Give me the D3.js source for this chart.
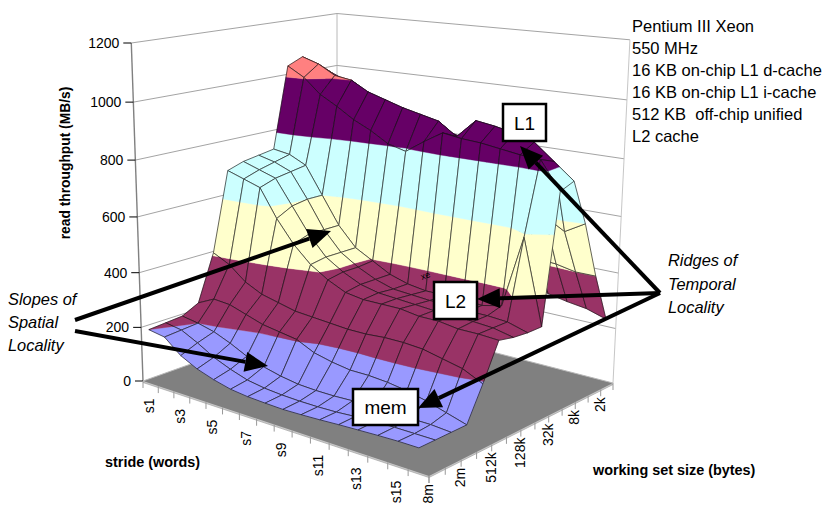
<!DOCTYPE html>
<meta charset="utf-8">
<style>
body { margin: 0; background: #fff; }
text { font-family: "Liberation Sans", Arial, sans-serif; fill: #000; white-space: pre; }
</style>
<body>
<script src="https://d3js.org/d3.v7.min.js"></script>
<script>
// stride s1..s16 across, working set size down
var strides = ["s1","s2","s3","s4","s5","s6","s7","s8","s9","s10","s11","s12","s13","s14","s15","s16"];
var sizes = ["1k","2k","4k","8k","16k","32k","64k","128k","256k","512k","1m","2m","4m","8m"];

var r1k   = [850,830,800,780,760,740,720,700,670,630,580,290,272,258,248,226];
var r2k   = [930,920,900,880,860,840,820,800,780,760,700,600,420,414,400,400];
var r4k   = [1030,1000,975,950,920,900,880,860,840,820,800,720,620,600,560,600];
var r8k   = [1065,1045,1010,1000,965,945,925,910,895,850,915,905,890,870,815,760];
var r16k  = [1040,1005,950,915,875,845,807,790,835,875,865,860,850,840,835,740];
var r32k  = [740,730,700,600,500,430,395,360,340,330,330,330,325,340,590,300];
var r64k  = [730,715,690,600,500,430,390,360,340,335,330,330,325,325,320,300];
var r128k = [720,700,680,590,500,430,390,360,345,340,335,330,330,325,320,305];
var r256k = [700,680,660,560,480,420,380,350,340,340,340,330,330,320,320,316];
var r512k = [410,380,330,300,285,270,265,260,255,255,260,260,255,240,225,193];
var r1m   = [240,270,265,245,225,215,205,175,160,150,150,145,135,120,100,80];
var r2m   = [210,200,185,160,130,110,95,85,82,82,85,85,85,85,85,80];
var r4m   = [205,195,165,130,105,85,75,70,68,68,70,75,78,80,80,80];
var r8m   = [200,190,140,110,90,75,68,65,63,65,68,72,75,78,80,80];
var throughput = [r1k,r2k,r4k,r8k,r16k,r32k,r64k,r128k,r256k,r512k,r1m,r2m,r4m,r8m];

var yTicks = [0,200,400,600,800,1000,1200];
var strideLabels = ["s1","s3","s5","s7","s9","s11","s13","s15"];
var sizeLabels = ["2k","8k","32k","128k","512k","2m","8m"];
var infoLines = ["Pentium III Xeon","550 MHz","16 KB on-chip L1 d-cache","16 KB on-chip L1 i-cache","512 KB  off-chip unified","L2 cache"];
var bandColors = ["#9999ff","#993366","#ffffcc","#ccffff","#660066","#ff8080"];

var width = 829, height = 506;
var svg = d3.select("body").append("svg").attr("width", width).attr("height", height);

// scales into the unit cube
var uScale = d3.scalePoint().domain(strides).range([0,1]).padding(0.5);
var vScale = d3.scalePoint().domain(sizes).range([0,1]);
var wScale = d3.scaleLinear().domain([0,1200]).range([0,1]);

// perspective from the floor corners and the wall tops of the picture
var back = [337,312], right = [613,383], front = [429,476], left = [143,381];
var topBack = [337,12], topLeft = [130,43];

var dx1 = right[0]-front[0], dx2 = left[0]-front[0], sx = back[0]-right[0]+front[0]-left[0];
var dy1 = right[1]-front[1], dy2 = left[1]-front[1], sy = back[1]-right[1]+front[1]-left[1];
var det = dx1*dy2-dx2*dy1;
var g = (sx*dy2-dx2*sy)/det, h = (dx1*sy-sx*dy1)/det;
var a = right[0]-back[0]+g*right[0], b = left[0]-back[0]+h*left[0], c = back[0];
var d = right[1]-back[1]+g*right[1], e = left[1]-back[1]+h*left[1], f = back[1];

// height column, rr picked so the wall gridlines space out like the picture
var rr = -0.05;
var qq = topLeft[1]*(h+1+rr)-(e+f);
var pp = topBack[0]*(1+rr)-c;

function project(u,v,w) {
  var n = g*u+h*v+1+rr*w;
  return [(a*u+b*v+c+pp*w)/n, (d*u+e*v+f+qq*w)/n];
}

var pathLine = d3.line().curve(d3.curveLinearClosed);
var openLine = d3.line();

// floor
var floorPts = [[0,0],[1,0],[1,1],[0,1]].map(function(p){ return project(p[0],p[1],0); });
svg.append("path").attr("d", pathLine(floorPts.map(function(p){ return [p[0],p[1]+1.5]; })))
   .attr("fill","#c8c8c8").attr("stroke","#a0a0a0").attr("stroke-width",0.7);
svg.append("path").attr("d", pathLine(floorPts)).attr("fill","#808080");

// wall gridlines
yTicks.forEach(function(t){
  var w = wScale(t);
  if (t == 0) return;
  svg.append("path").attr("d", openLine([project(0,1,w),project(0,0,w),project(1,0,w)]))
     .attr("fill","none").attr("stroke","#8c8c8c").attr("stroke-width",0.8);
});
svg.append("line").attr("x1",project(0,1,0)[0]).attr("y1",project(0,1,0)[1]).attr("x2",project(0,1,1)[0]).attr("y2",project(0,1,1)[1])
   .attr("stroke","#808080").attr("stroke-width",1.4);
svg.append("line").attr("x1",project(0,0,0)[0]).attr("y1",project(0,0,0)[1]).attr("x2",project(0,0,1)[0]).attr("y2",project(0,0,1)[1])
   .attr("stroke","#b0b0b0").attr("stroke-width",0.9);
svg.append("line").attr("x1",project(1,0,0)[0]).attr("y1",project(1,0,0)[1]).attr("x2",project(1,0,1)[0]).attr("y2",project(1,0,1)[1])
   .attr("stroke","#c0c0c0").attr("stroke-width",0.9);
svg.append("path").attr("d", openLine([project(0,1,0),project(0,0,0),project(1,0,0)]))
   .attr("fill","none").attr("stroke","#b8b8b8").attr("stroke-width",1);

// clip a polygon of {u,v,t} to t on one side of a level
function clipLevel(poly, level, keepAbove) {
  var out = [];
  poly.forEach(function(p,i){
    var q = poly[(i+1)%poly.length];
    var pIn = keepAbove ? p.t >= level : p.t <= level;
    var qIn = keepAbove ? q.t >= level : q.t <= level;
    if (pIn) out.push(p);
    if (pIn != qIn) {
      var k = (level-p.t)/(q.t-p.t);
      out.push({u:p.u+k*(q.u-p.u), v:p.v+k*(q.v-p.v), t:level});
    }
  });
  return out;
}
function toScreen(poly) { return poly.map(function(p){ return project(p.u,p.v,wScale(p.t)); }); }

// cells back to front
var cells = [];
strides.slice(0,-1).forEach(function(s,i){
  sizes.slice(0,-1).forEach(function(z,j){
    var corners = [[i,j],[i+1,j],[i+1,j+1],[i,j+1]].map(function(n){
      return {u:uScale(strides[n[0]]), v:vScale(sizes[n[1]]), t:throughput[n[1]][n[0]]};
    });
    var bands = [];
    bandColors.forEach(function(col,b){
      var piece = clipLevel(clipLevel(corners, b*200, true), (b+1)*200, false);
      if (piece.length > 2) bands.push({color:col, pts:toScreen(piece)});
    });
    cells.push({corners:toScreen(corners), bands:bands});
  });
});

var cell = svg.append("g").selectAll("g").data(cells).join("g");
cell.selectAll("path.band").data(function(c){ return c.bands; }).join("path")
    .attr("class","band")
    .attr("d", function(b){ return pathLine(b.pts); })
    .attr("fill", function(b){ return b.color; })
    .attr("stroke", function(b){ return b.color; })
    .attr("stroke-width",0.4);
cell.append("path")
    .attr("d", function(c){ return pathLine(c.corners); })
    .attr("fill","none").attr("stroke","#111").attr("stroke-width",0.65);

// y axis
yTicks.forEach(function(t){
  var p = project(0,1,wScale(t));
  svg.append("line").attr("x1",p[0]-8).attr("x2",p[0]).attr("y1",p[1]).attr("y2",p[1]).attr("stroke","#000").attr("stroke-width",1);
  svg.append("text").attr("x",p[0]-12).attr("y",p[1]+5).attr("text-anchor","end").style("font-size","14px").text(t);
});

// stride axis ticks and labels
d3.range(17).forEach(function(k){
  var p = project(k/16,1,0);
  svg.append("line").attr("x1",p[0]).attr("x2",p[0]).attr("y1",p[1]).attr("y2",p[1]+7).attr("stroke","#999").attr("stroke-width",1);
});
strideLabels.forEach(function(s){
  var p = project(uScale(s),1,0);
  svg.append("text").attr("transform","translate("+(p[0]+3)+","+(p[1]+15)+") rotate(-90)")
     .attr("text-anchor","end").style("font-size","14px").text(s);
});
// size axis ticks and labels
sizes.forEach(function(z){
  var p = project(1,vScale(z),0);
  svg.append("line").attr("x1",p[0]).attr("x2",p[0]).attr("y1",p[1]).attr("y2",p[1]+7).attr("stroke","#999").attr("stroke-width",1);
});
sizeLabels.forEach(function(s){
  var p = project(1,vScale(s),0);
  svg.append("text").attr("transform","translate("+(p[0]+4)+","+(p[1]+8)+") rotate(-90)")
     .attr("text-anchor","end").style("font-size","14px").text(s);
});

// axis titles
svg.append("text").attr("transform","translate(70,163) rotate(-90)").attr("text-anchor","middle")
   .style("font-size","13.8px").style("font-weight","bold").text("read throughput (MB/s)");
svg.append("text").attr("x",105).attr("y",467).style("font-size","14.4px").style("font-weight","bold").text("stride (words)");
svg.append("text").attr("x",593).attr("y",475).style("font-size","14.4px").style("font-weight","bold").text("working set size (bytes)");

// info block
svg.selectAll("text.info").data(infoLines).join("text").attr("class","info")
   .attr("x",632).attr("y",function(d,i){ return 32+i*22; }).style("font-size","16.5px").text(function(d){ return d; });

// italic notes
var noteLeft = ["Slopes of","Spatial","Locality"], noteRight = ["Ridges of","Temporal","Locality"];
noteLeft.forEach(function(t,i){
  svg.append("text").attr("x",8).attr("y",305+i*23).style("font-size","16.4px").style("font-style","italic").text(t);
});
noteRight.forEach(function(t,i){
  svg.append("text").attr("x",668).attr("y",266+i*23.5).style("font-size","16.4px").style("font-style","italic").text(t);
});

svg.append("text").attr("transform","translate(422,280) rotate(-20)").style("font-size","9px").text("xe");

// arrows
var arrows = [[75,320,331,231],[75,331,268,366],[660,293,520,146],[660,293,477,299],[660,293,418,408]];
arrows.forEach(function(r){
  var ang = Math.atan2(r[3]-r[1], r[2]-r[0]), len = 23, hw = 10;
  var bx = r[2]-len*Math.cos(ang), by = r[3]-len*Math.sin(ang);
  svg.append("line").attr("x1",r[0]).attr("y1",r[1]).attr("x2",bx).attr("y2",by).attr("stroke","#000").attr("stroke-width",4);
  svg.append("path").attr("d", pathLine([[r[2],r[3]],[bx-hw*Math.sin(ang),by+hw*Math.cos(ang)],[bx+hw*Math.sin(ang),by-hw*Math.cos(ang)]])).attr("fill","#000");
});

// boxes
var boxNames = ["L1","L2","mem"];
var boxRects = [[503,104,43,37],[434,282,43,37],[353,389,65,36]];
boxNames.forEach(function(n,i){
  var r = boxRects[i];
  svg.append("rect").attr("x",r[0]).attr("y",r[1]).attr("width",r[2]).attr("height",r[3]).attr("fill","#fff").attr("stroke","#000").attr("stroke-width",2.5);
  svg.append("text").attr("x",r[0]+r[2]/2).attr("y",r[1]+r[3]/2+7).attr("text-anchor","middle").style("font-size","19px").text(n);
});
</script>
</body>
